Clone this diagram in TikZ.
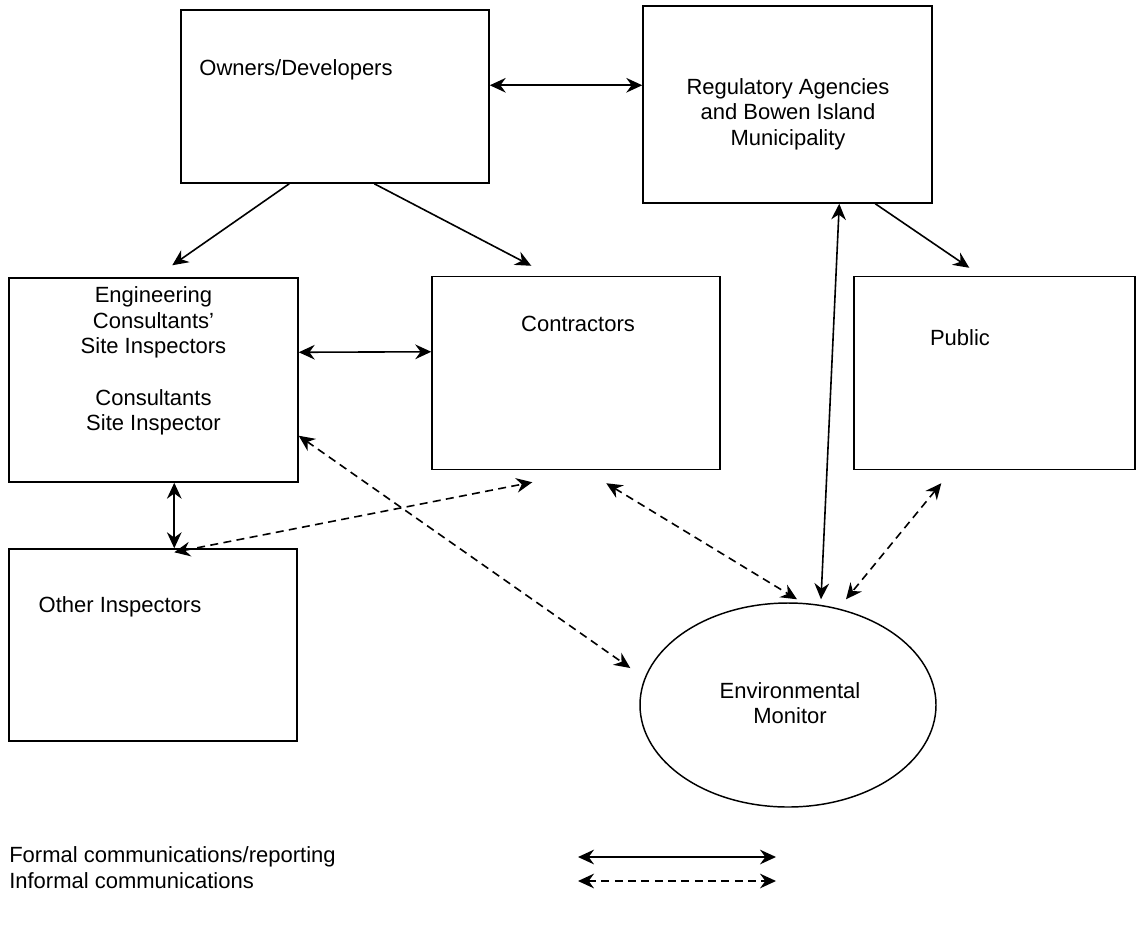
\documentclass[tikz,border=0pt]{standalone}
\usepackage{fontspec}
\setmainfont{Liberation Sans}
\usetikzlibrary{arrows.meta,shapes.geometric,calc}
\begin{document}
\begin{tikzpicture}[x=0.75pt,y=-0.75pt,
  every node/.style={font=\fontsize{16.5pt}{19.2pt}\selectfont},
  box/.style={draw, line width=1.1pt, rectangle, inner sep=0pt},
  oval/.style={draw, line width=1.1pt, ellipse, inner sep=0pt, minimum width=222pt, minimum height=153pt},
  txt/.style={align=center, inner sep=0pt},
  tip/.tip={Stealth[length=12pt,width=11pt,inset=4pt]},
  formal/.style={line width=1.2pt, tip-tip},
  oneway/.style={line width=1.2pt, -tip},
  informal/.style={formal, dash pattern=on 6pt off 4pt}]
\useasboundingbox (0,0) rectangle (1137,932);

% boxes
\node[box, minimum width=231pt, minimum height=129.75pt] (own) at (335,96.5) {};
\node[txt] (ownT) at (296,70) {Owners/Developers};

\node[box, minimum width=216.75pt, minimum height=147.75pt] (reg) at (787.5,104.5) {};
\node[txt] (regT) at (788,114) {Regulatory Agencies\\and Bowen Island\\Municipality};

\node[box, minimum width=216.75pt, minimum height=153pt] (eng) at (153.5,380) {};
\node[txt] (engT) at (153.5,361) {Engineering\\Consultants’\\Site Inspectors\\[19.2pt]Consultants\\Site Inspector};

\node[box, minimum width=216pt, minimum height=144.75pt] (con) at (576,373) {};
\node[txt] (conT) at (578,324) {Contractors};

\node[box, minimum width=210.75pt, minimum height=144.75pt] (pub) at (994.5,373) {};
\node[txt] (pubT) at (960,338) {Public};

\node[box, minimum width=216pt, minimum height=144pt] (oth) at (153,645) {};
\node[txt] (othT) at (120,607) {Other Inspectors};

\node[oval] (env) at (788,705) {};
\node[txt] (envT) at (790,703) {Environmental\\Monitor};

% formal connectors
\draw[formal] ($(own.north east)+(0,76)$) -- ($(reg.north west)+(0,80)$);
\draw[oneway] ($(own.south west)+(109,0)$) -- ($(eng.north west)+(164,-12)$);
\draw[oneway] ($(own.south west)+(194,0)$) -- ($(con.north west)+(100,-10)$);
\draw[oneway] ($(reg.south west)+(233,0)$) -- ($(pub.north west)+(116,-8)$);
\draw[formal] ($(reg.south west)+(197,0)$) -- ($(env.north)+(33,-3)$);
\draw[formal] ($(eng.north east)+(0,75)$) -- ($(con.north west)+(0,76)$);
\draw[formal] ($(eng.south west)+(166,0)$) -- ($(oth.north west)+(166,0)$);

% informal connectors
\draw[informal] ($(eng.south east)+(0,-47)$) -- ($(env.west)+(-9,-37)$);
\draw[informal] ($(oth.north west)+(166,4)$) -- ($(con.south west)+(101,12)$);
\draw[informal] ($(con.south west)+(175,13)$) -- ($(env.north)+(9,-3)$);
\draw[informal] ($(pub.south west)+(88,13)$) -- ($(env.north)+(58,-3)$);

% legend
\node[txt, anchor=west] (lf) at (9,857) {Formal communications/reporting};
\node[txt, anchor=west] (li) at (9,881) {Informal communications};
\coordinate (lfa) at (578,857);
\coordinate (lfb) at (776,857);
\coordinate (lia) at (578,881);
\coordinate (lib) at (776,881);
\draw[formal] (lfa) -- (lfb);
\draw[informal] (lia) -- (lib);
\end{tikzpicture}
\end{document}
